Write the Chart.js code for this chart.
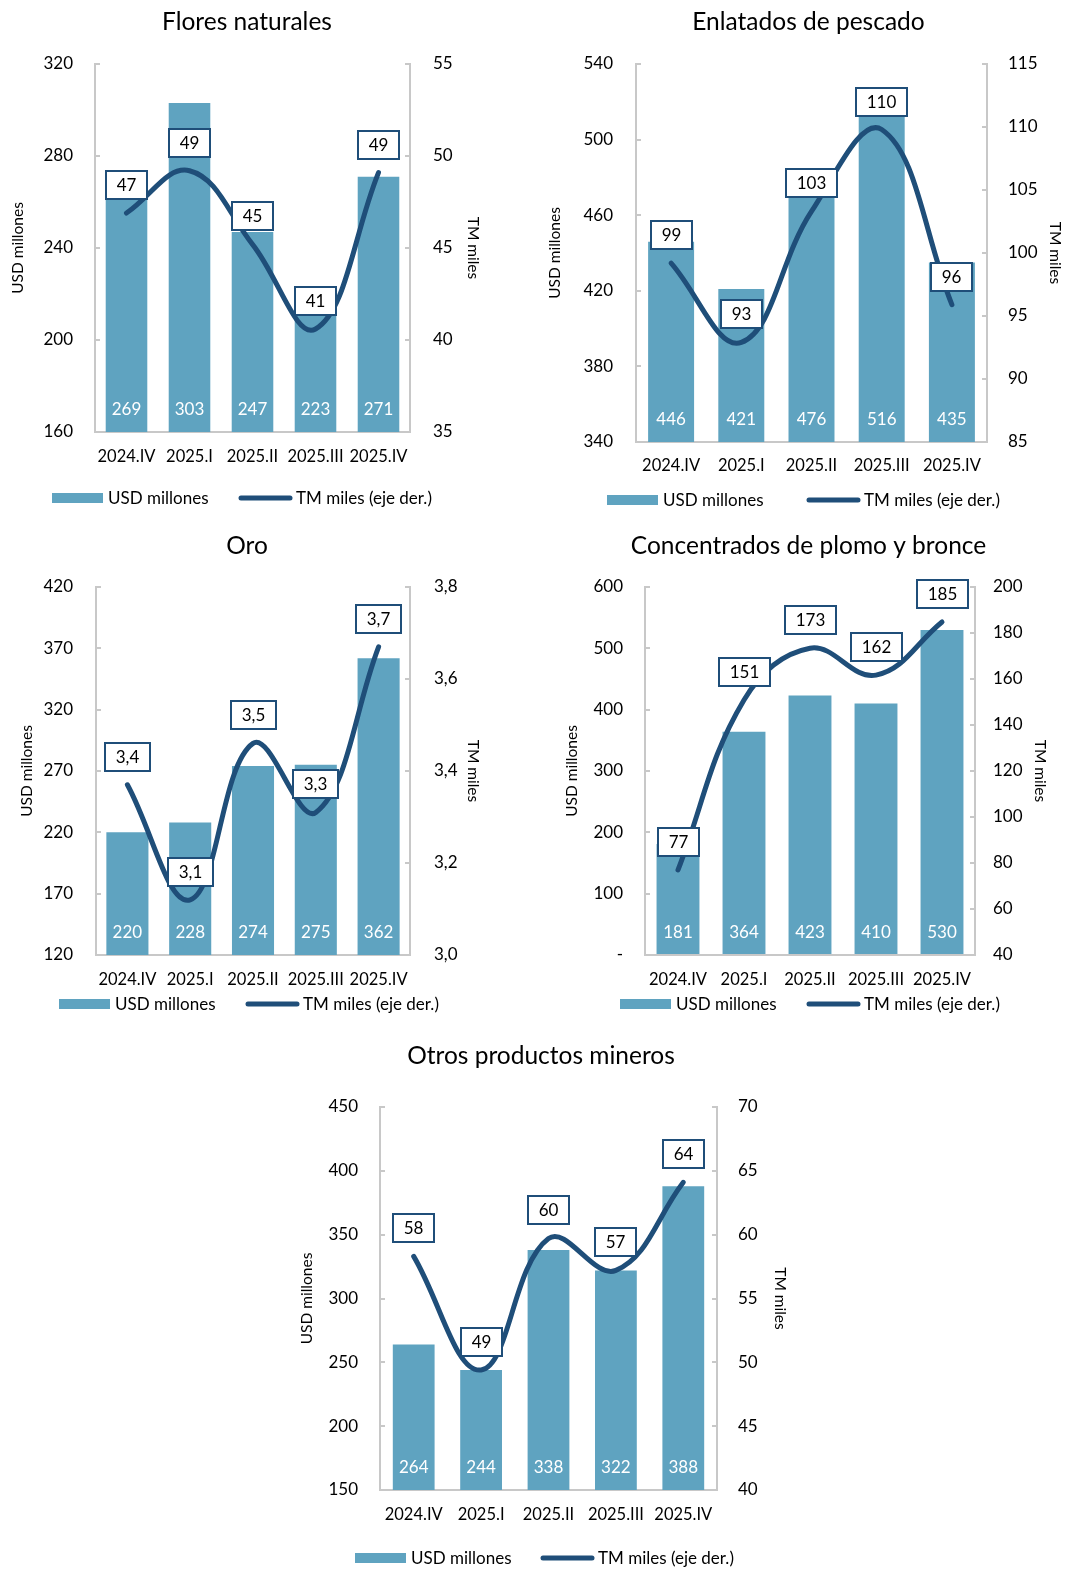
<!DOCTYPE html>
<html lang="es">
<head>
<meta charset="utf-8">
<title>Exportaciones por producto</title>
<script src="https://cdn.jsdelivr.net/npm/chart.js@4.4.1/dist/chart.umd.min.js"></script>
<style>
  html, body { margin: 0; padding: 0; background: #fff; overflow: hidden; }
  #pagina { position: relative; width: 1077px; height: 1586px; overflow: hidden; }
  canvas { position: absolute; display: block; }
</style>
</head>
<body>
<div id="pagina"></div>
<script>
// datos
const periodos = ['2024.IV', '2025.I', '2025.II', '2025.III', '2025.IV'];

const floresUsd = [269, 303, 247, 223, 271];
const floresTm = [46.9, 49.2, 45.2, 40.6, 49.1];
const floresEscalaUsd = [160, 320, 40];
const floresEscalaTm = [35, 55, 5];

const pescadoUsd = [446, 421, 476, 516, 435];
const pescadoTm = [99.2, 92.9, 103.3, 109.8, 95.9];
const pescadoEscalaUsd = [340, 540, 40];
const pescadoEscalaTm = [85, 115, 5];

const oroUsd = [220, 228, 274, 275, 362];
const oroTm = [3.37, 3.12, 3.46, 3.31, 3.67];
const oroEscalaUsd = [120, 420, 50];
const oroEscalaTm = [3.0, 3.8, 0.2];

const plomoUsd = [181, 364, 423, 410, 530];
const plomoTm = [77.0, 150.9, 173.4, 161.7, 184.8];
const plomoEscalaUsd = [0, 600, 100];
const plomoEscalaTm = [40, 200, 20];

const otrosUsd = [264, 244, 338, 322, 388];
const otrosTm = [58.3, 49.4, 59.7, 57.2, 64.1];
const otrosEscalaUsd = [150, 450, 50];
const otrosEscalaTm = [40, 70, 5];

const AZUL_BARRA = '#5FA3C0';
const AZUL_LINEA = '#1F4E79';
const GRIS_EJE = '#C8C8C8';
const FUENTE = 'Lato, "Open Sans", sans-serif';
const TAM = 17; // tamaño de letra de ejes, etiquetas y leyenda

Chart.defaults.font.family = FUENTE;
Chart.defaults.color = '#000';

function fmt(v, dec) {
    if (dec) return v.toFixed(dec).replace('.', ',');
    return String(Math.round(v));
}

// etiquetas de datos: valores blancos dentro de las barras y cajas sobre la línea
const etiquetas = {
    id: 'etiquetas',
    afterDatasetsDraw(chart, args, opts) {
        const ctx = chart.ctx;
        const area = chart.chartArea;
        ctx.save();
        ctx.font = TAM + 'px ' + FUENTE;
        ctx.textAlign = 'center';
        ctx.textBaseline = 'middle';
        const barras = chart.data.datasets[0].data;
        chart.getDatasetMeta(0).data.forEach((el, i) => {
            ctx.fillStyle = '#fff';
            ctx.fillText(fmt(barras[i], 0), el.x, area.bottom - 22);
        });
        const linea = chart.data.datasets[1].data;
        chart.getDatasetMeta(1).data.forEach((el, i) => {
            const txt = fmt(linea[i], opts.dec);
            const w = Math.round(ctx.measureText(txt).width + 21);
            const h = 28;
            const x0 = Math.round(el.x - w / 2);
            const y0 = Math.round(el.y - 28 - h / 2);
            ctx.fillStyle = '#fff';
            ctx.fillRect(x0, y0, w, h);
            ctx.lineWidth = 2;
            ctx.strokeStyle = AZUL_LINEA;
            ctx.strokeRect(x0, y0, w, h);
            ctx.fillStyle = '#000';
            ctx.fillText(txt, x0 + w / 2, y0 + h / 2 + 1);
        });
        ctx.restore();
    }
};

// leyenda dibujada a mano (rectángulo + línea gruesa)
const leyenda = {
    id: 'leyenda',
    afterDraw(chart, args, o) {
        const ctx = chart.ctx;
        ctx.save();
        ctx.font = TAM + 'px ' + FUENTE;
        ctx.textBaseline = 'middle';
        ctx.fillStyle = AZUL_BARRA;
        ctx.fillRect(o.barX, o.y - 5, 51, 10);
        ctx.fillStyle = '#000';
        ctx.fillText(chart.data.datasets[0].label, o.barX + 56, o.y + 1);
        ctx.strokeStyle = AZUL_LINEA;
        ctx.lineWidth = 5;
        ctx.lineCap = 'round';
        ctx.beginPath();
        ctx.moveTo(o.lineX + 3, o.y);
        ctx.lineTo(o.lineX + 52, o.y);
        ctx.stroke();
        ctx.fillText(chart.data.datasets[1].label, o.lineX + 58, o.y + 1);
        ctx.restore();
    }
};

function ejeY(pos, escala, cfg, titulo, fmtTick, ancho) {
    return {
        position: pos,
        min: escala[0],
        max: escala[1],
        ticks: {
            stepSize: escala[2],
            padding: cfg.tickPad,
            font: { size: TAM },
            callback: fmtTick
        },
        grid: { drawOnChartArea: false, drawTicks: true, tickLength: -5, color: GRIS_EJE, lineWidth: 2 },
        border: { display: true, color: GRIS_EJE, width: 2 },
        title: { display: true, text: titulo, font: { size: 15.5 }, padding: { top: cfg.tituloPad, bottom: 0 } },
        afterFit: s => { s.width = ancho; }
    };
}

function crear(g) {
    const cv = document.createElement('canvas');
    cv.width = g.w;
    cv.height = g.h;
    cv.style.left = g.x + 'px';
    cv.style.top = g.y + 'px';
    cv.style.width = g.w + 'px';
    cv.style.height = g.h + 'px';
    document.getElementById('pagina').appendChild(cv);

    new Chart(cv, {
        type: 'bar',
        data: {
            labels: periodos,
            datasets: [
                {
                    type: 'bar',
                    label: 'USD millones',
                    data: g.usd,
                    yAxisID: 'y',
                    backgroundColor: AZUL_BARRA,
                    barPercentage: g.barPct,
                    categoryPercentage: 1,
                    order: 1
                },
                {
                    type: 'line',
                    label: 'TM miles (eje der.)',
                    data: g.tm,
                    yAxisID: 'y1',
                    borderColor: AZUL_LINEA,
                    borderWidth: 5,
                    tension: 0.4,
                    pointRadius: 0,
                    borderCapStyle: 'round',
                    borderJoinStyle: 'round',
                    order: 0
                }
            ]
        },
        options: {
            responsive: false,
            animation: false,
            layout: { padding: { top: 0, left: 0, right: 0, bottom: g.h - g.area.b - 40 } },
            plugins: {
                legend: { display: false },
                tooltip: { enabled: false },
                title: {
                    display: true,
                    text: g.titulo,
                    font: { size: 24.5, weight: 'normal' },
                    padding: { top: g.tituloY - 14.7, bottom: g.area.t - g.tituloY - 14.7 }
                },
                etiquetas: { dec: g.dec },
                leyenda: g.leyenda
            },
            scales: {
                x: {
                    grid: { display: false, drawTicks: false },
                    border: { display: true, color: GRIS_EJE, width: 2 },
                    ticks: { padding: g.xPad, font: { size: 16.5 }, maxRotation: 0, autoSkip: false },
                    afterFit: s => { s.height = 40; }
                },
                y: ejeY('left', g.escUsd, g.izq, 'USD millones', g.fmtUsd || (v => fmt(v, 0)), g.area.l),
                y1: ejeY('right', g.escTm, g.der, 'TM miles', v => fmt(v, g.dec), g.w - g.area.r)
            }
        },
        plugins: [etiquetas, leyenda]
    });
}

crear({
    titulo: 'Flores naturales', usd: floresUsd, tm: floresTm, escUsd: floresEscalaUsd, escTm: floresEscalaTm, dec: 0,
    x: 0, y: 0, w: 494, h: 520, area: { l: 95, r: 410, t: 64, b: 432 }, tituloY: 22,
    izq: { tituloPad: 9, tickPad: 27 }, der: { tituloPad: 12, tickPad: 28 },
    xPad: 15, barPct: 0.66, leyenda: { y: 498, barX: 52, lineX: 238 }
});

crear({
    titulo: 'Enlatados de pescado', usd: pescadoUsd, tm: pescadoTm, escUsd: pescadoEscalaUsd, escTm: pescadoEscalaTm, dec: 0,
    x: 540, y: 0, w: 537, h: 520, area: { l: 96, r: 447, t: 64, b: 442 }, tituloY: 22,
    izq: { tituloPad: 6, tickPad: 28 }, der: { tituloPad: 13, tickPad: 26 },
    xPad: 14, barPct: 0.655, leyenda: { y: 500, barX: 67, lineX: 266 }
});

crear({
    titulo: 'Oro', usd: oroUsd, tm: oroTm, escUsd: oroEscalaUsd, escTm: oroEscalaTm, dec: 1,
    x: 0, y: 525, w: 494, h: 500, area: { l: 96, r: 410, t: 62, b: 430 }, tituloY: 21,
    izq: { tituloPad: 18, tickPad: 28 }, der: { tituloPad: 12, tickPad: 29 },
    xPad: 15, barPct: 0.67, leyenda: { y: 479, barX: 59, lineX: 245 }
});

crear({
    titulo: 'Concentrados de plomo y bronce', usd: plomoUsd, tm: plomoTm, escUsd: plomoEscalaUsd, escTm: plomoEscalaTm, dec: 0,
    x: 540, y: 525, w: 537, h: 500, area: { l: 105, r: 435, t: 62, b: 430 }, tituloY: 21,
    izq: { tituloPad: 23, tickPad: 27 }, der: { tituloPad: 28, tickPad: 23 },
    xPad: 15, barPct: 0.65, leyenda: { y: 479, barX: 80, lineX: 266 },
    fmtUsd: v => (v === 0 ? '-' : fmt(v, 0))
});

crear({
    titulo: 'Otros productos mineros', usd: otrosUsd, tm: otrosTm, escUsd: otrosEscalaUsd, escTm: otrosEscalaTm, dec: 0,
    x: 290, y: 1030, w: 502, h: 556, area: { l: 90, r: 427, t: 77, b: 460 }, tituloY: 26,
    izq: { tituloPad: 8, tickPad: 27 }, der: { tituloPad: 3, tickPad: 26 },
    xPad: 15, barPct: 0.62, leyenda: { y: 528, barX: 65, lineX: 250 }
});
</script>
</body>
</html>
